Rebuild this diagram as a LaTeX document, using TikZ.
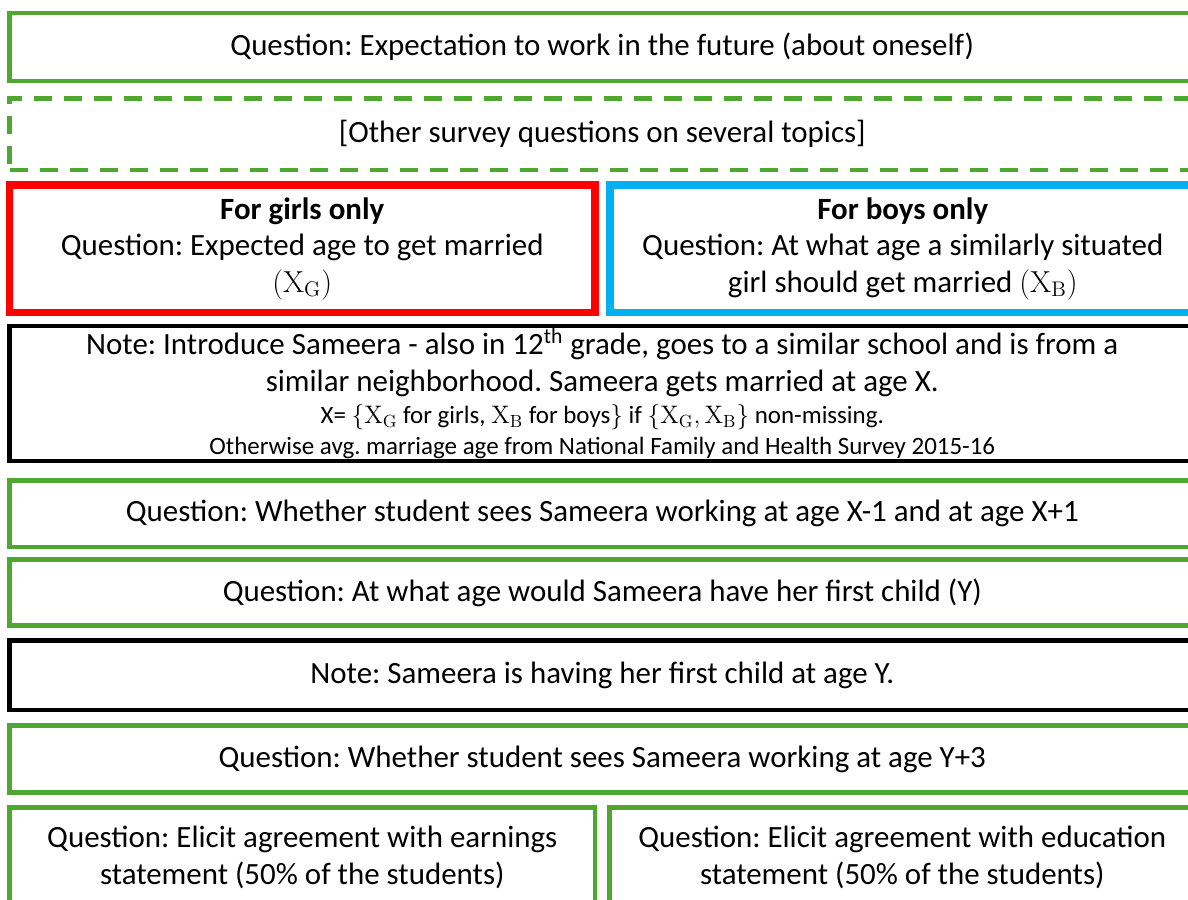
\documentclass[tikz,border=0pt]{standalone}
\usepackage[no-math]{fontspec}
\setmainfont{Carlito}
\usetikzlibrary{positioning}
\definecolor{boxgreen}{RGB}{78,167,46}
\definecolor{boxblue}{RGB}{0,176,240}
\definecolor{boxred}{RGB}{255,0,0}
\newcommand{\smalltext}{\fontsize{14.2pt}{17pt}\selectfont}
\frenchspacing

\begin{document}
\begin{tikzpicture}[font=\fontsize{17.6pt}{20.7pt}\selectfont]
	\tikzstyle{question}=[draw=boxgreen, line width=2.3pt, outer sep=0pt, inner sep=0pt, minimum width=23.71cm, align=center]
	\tikzstyle{other}=[question, dash pattern=on 0.36cm off 0.24cm]
	\tikzstyle{note}=[draw=black, line width=2.8pt, outer sep=0pt, inner sep=0pt, minimum width=23.71cm, align=center]
	\tikzstyle{half}=[outer sep=0pt, inner sep=0pt, minimum width=11.71cm, align=center]
	\tikzstyle{girls}=[half, draw=boxred, line width=4.5pt, minimum height=2.55cm]
	\tikzstyle{boys}=[half, draw=boxblue, line width=4.5pt, minimum height=2.55cm]
	\tikzstyle{split}=[half, draw=boxgreen, line width=2.3pt, minimum height=2cm]

	\useasboundingbox (0,0) rectangle (23.76,-17.98);
	\clip (0,0) rectangle (23.76,-17.98);

	\node (expect) [question, minimum height=1.36cm, anchor=north west] at (0.19,-0.26) {Question: Expectation to work in the future (about oneself)};
	\node (other) [other, minimum height=1.43cm, below=0.35cm of expect] {[Other survey questions on several topics]};

	\node (girls) [girls, below=0.3cm of other.south west, anchor=north west] {\textbf{For girls only}\\Question: Expected age to get married\\$(\mathrm{X}_{\mathrm{G}})$};
	\node (boys) [boys, right=0.3cm of girls] {\textbf{For boys only}\\Question: At what age a similarly situated\\girl should get married $(\mathrm{X}_{\mathrm{B}})$};

	\node (intro) [note, minimum height=2.7cm, below=0.27cm of girls.south west, anchor=north west] {Note: Introduce Sameera - also in 12\textsuperscript{th} grade, goes to a similar school and is from a\\similar neighborhood. Sameera gets married at age X.\\[-2.4pt]
		{\smalltext X= $\{\mathrm{X}_{\mathrm{G}}$ for girls, $\mathrm{X}_{\mathrm{B}}$ for boys$\}$ if $\{\mathrm{X}_{\mathrm{G}},\mathrm{X}_{\mathrm{B}}\}$ non-missing.}\\[-3.2pt]
		{\smalltext Otherwise avg. marriage age from National Family and Health Survey 2015-16}};

	\node (working) [question, minimum height=1.33cm, below=0.39cm of intro] {Question: Whether student sees Sameera working at age X-1 and at age X+1};
	\node (child) [question, minimum height=1.32cm, below=0.25cm of working] {Question: At what age would Sameera have her first child (Y)};
	\node (having) [note, minimum height=1.39cm, below=0.3cm of child] {Note: Sameera is having her first child at age Y.};
	\node (later) [question, minimum height=1.34cm, below=0.31cm of having] {Question: Whether student sees Sameera working at age Y+3};

	\node (earn) [split, below=0.3cm of later.south west, anchor=north west] {Question: Elicit agreement with earnings\\statement (50\% of the students)};
	\node (edu) [split, right=0.29cm of earn] {Question: Elicit agreement with education\\statement (50\% of the students)};
\end{tikzpicture}
\end{document}
